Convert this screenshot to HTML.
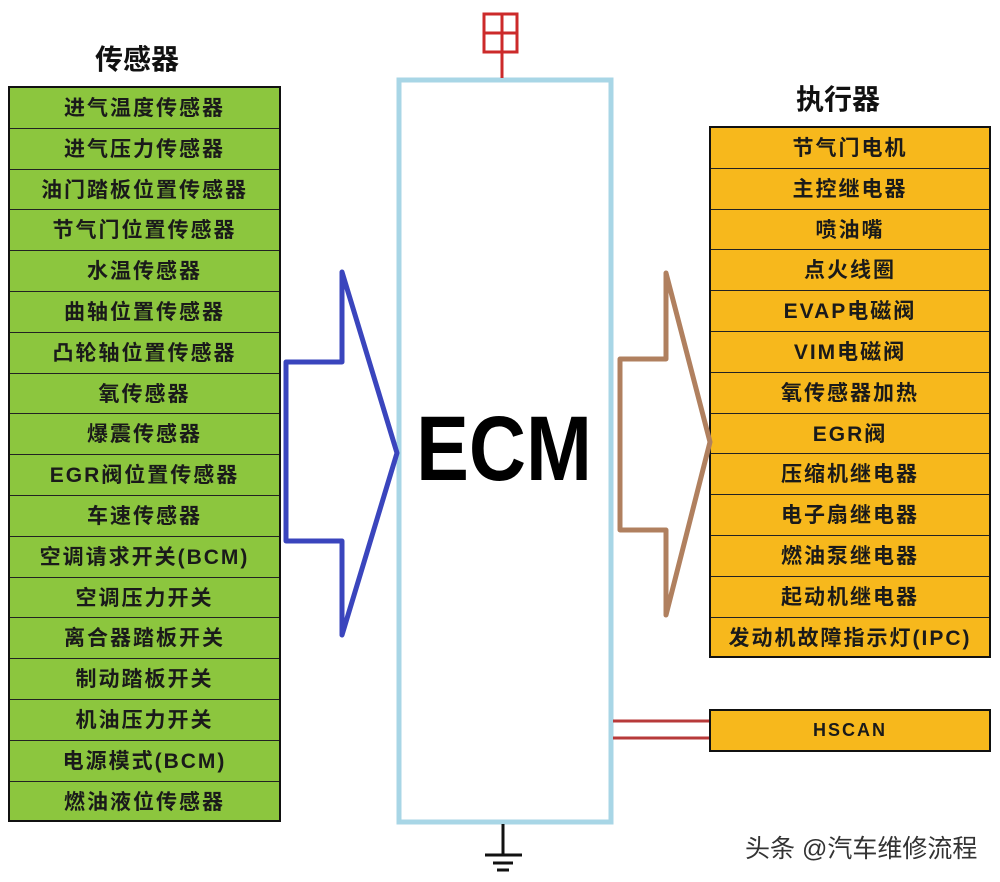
<!DOCTYPE html>
<html><head><meta charset="utf-8"><style>
body{margin:0;width:1000px;height:882px;background:#fff;position:relative;overflow:hidden;font-family:"Liberation Sans","Noto Sans CJK SC",sans-serif;}
.list{position:absolute;border:2px solid #111;box-sizing:border-box;}
.list div{height:40.8px;box-sizing:border-box;border-bottom:1.5px solid #222;text-align:center;line-height:41px;font-size:21px;font-weight:bold;letter-spacing:2px;color:#1a1a1a;}
.list div:last-child{border-bottom:none;}
.g{left:8px;top:86px;width:273px;height:736px;background:#8cc63e;}
.y{left:709px;top:126px;width:282px;height:532px;background:#f7b81c;}
.h{position:absolute;font-size:28px;font-weight:bold;color:#111;}
</style></head><body>
<div class="h" style="left:95px;top:38px;">传感器</div>
<div class="h" style="left:796px;top:78px;">执行器</div>
<div class="list g">
<div>进气温度传感器</div><div>进气压力传感器</div><div>油门踏板位置传感器</div><div>节气门位置传感器</div><div>水温传感器</div><div>曲轴位置传感器</div><div>凸轮轴位置传感器</div><div>氧传感器</div><div>爆震传感器</div><div>EGR阀位置传感器</div><div>车速传感器</div><div>空调请求开关(BCM)</div><div>空调压力开关</div><div>离合器踏板开关</div><div>制动踏板开关</div><div>机油压力开关</div><div>电源模式(BCM)</div><div>燃油液位传感器</div>
</div>
<div class="list y">
<div>节气门电机</div><div>主控继电器</div><div>喷油嘴</div><div>点火线圈</div><div>EVAP电磁阀</div><div>VIM电磁阀</div><div>氧传感器加热</div><div>EGR阀</div><div>压缩机继电器</div><div>电子扇继电器</div><div>燃油泵继电器</div><div>起动机继电器</div><div>发动机故障指示灯(IPC)</div>
</div>
<div class="list y" style="top:709px;height:43px;"><div style="height:39px;line-height:39px;font-size:18px;">HSCAN</div></div>
<svg width="1000" height="882" style="position:absolute;left:0;top:0;">
<rect x="399" y="80" width="212" height="742" fill="none" stroke="#a8d6e6" stroke-width="5"/>
<rect x="484" y="14" width="33" height="38" fill="none" stroke="#cc2a2a" stroke-width="3"/>
<line x1="484" y1="33" x2="517" y2="33" stroke="#cc2a2a" stroke-width="3"/>
<line x1="502" y1="14" x2="502" y2="78" stroke="#cc2a2a" stroke-width="3"/>
<line x1="503" y1="824" x2="503" y2="855" stroke="#111" stroke-width="3"/>
<line x1="485" y1="855" x2="522" y2="855" stroke="#111" stroke-width="3"/>
<line x1="493" y1="863" x2="513" y2="863" stroke="#111" stroke-width="3"/>
<line x1="497" y1="870" x2="509" y2="870" stroke="#111" stroke-width="3"/>
<polygon points="286,362 342,362 342,272 397,453 342,635 342,541 286,541" fill="none" stroke="#3a45bd" stroke-width="5" stroke-linejoin="round"/>
<polygon points="620,359 666,359 666,273 710,442 666,615 666,530 620,530" fill="none" stroke="#b0805f" stroke-width="5" stroke-linejoin="round"/>
<line x1="613" y1="721" x2="709" y2="721" stroke="#b73a3a" stroke-width="3"/>
<line x1="613" y1="738" x2="709" y2="738" stroke="#b73a3a" stroke-width="3"/>
<text x="504" y="480" text-anchor="middle" font-family="Liberation Sans" font-weight="bold" font-size="92" transform="translate(504 0) scale(0.86 1) translate(-504 0)" fill="#000">ECM</text>
<text x="745" y="857" font-family="Liberation Sans,Noto Sans CJK SC,sans-serif" font-size="25" fill="#333">头条 @汽车维修流程</text>
</svg>
</body></html>
